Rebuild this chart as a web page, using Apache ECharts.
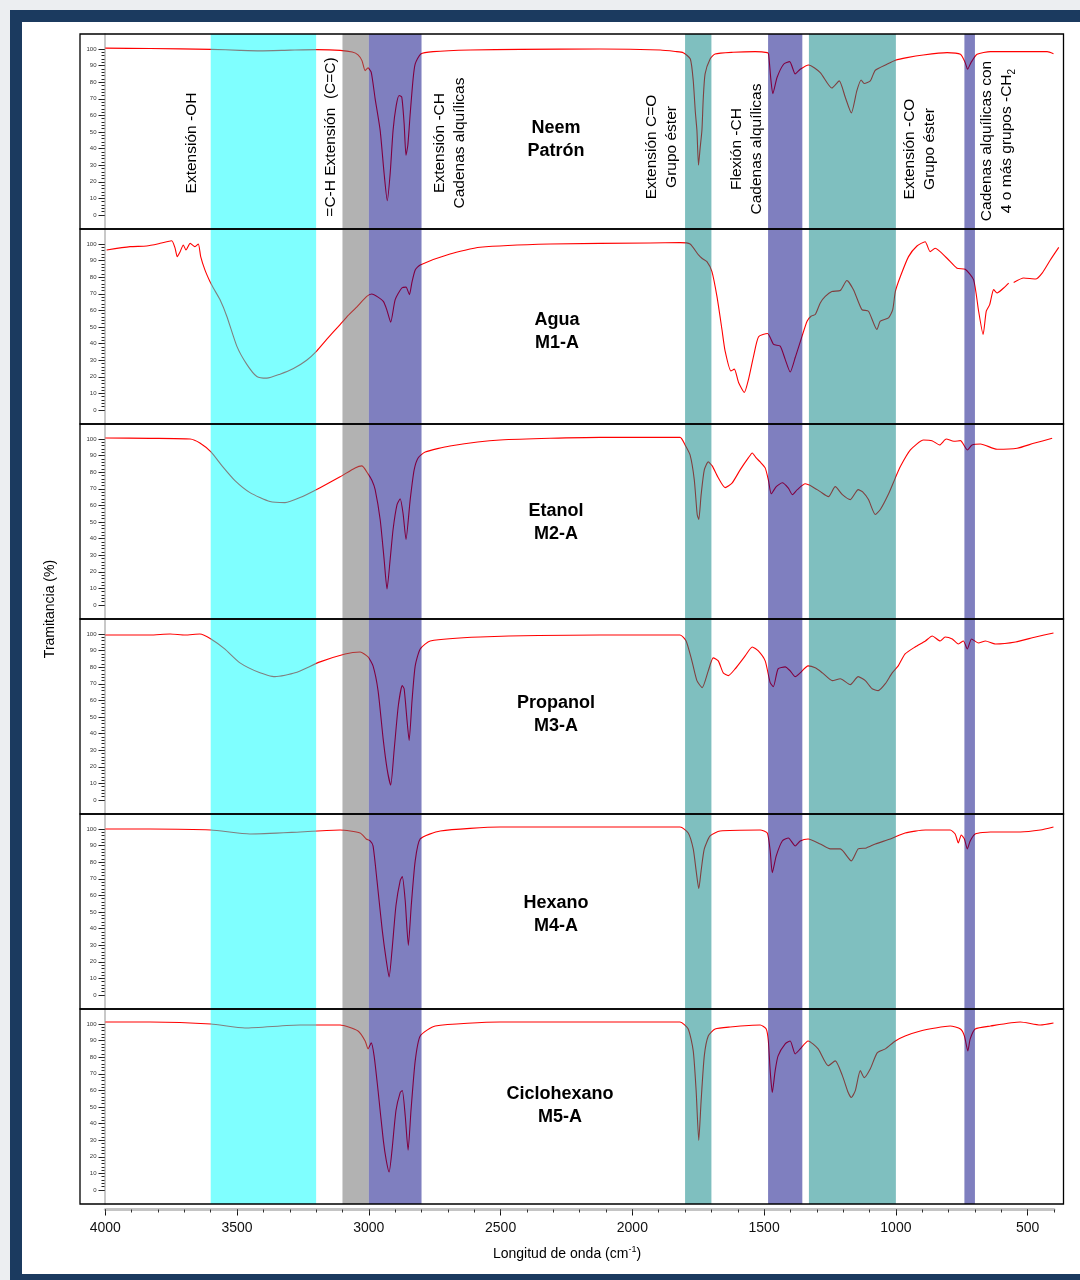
<!DOCTYPE html>
<html>
<head>
<meta charset="utf-8">
<title>Espectros FTIR</title>
<script src="https://cdn.jsdelivr.net/npm/echarts@6/dist/echarts.min.js"></script>
<style>
  html, body { margin: 0; padding: 0; width: 1080px; height: 1280px; overflow: hidden; background: #eceef1; }
  #frame { position: absolute; left: 10px; top: 10px; width: 1070px; height: 1270px; background: #1b3a5f; }
  #sheet { position: absolute; left: 22px; top: 22px; width: 1058px; height: 1252px; background: #ffffff; }
  #chart { position: absolute; left: 0; top: 0; width: 1080px; height: 1280px; }
</style>
</head>
<body>
<div id="frame"></div>
<div id="sheet"></div>
<div id="chart"></div>
<script>
// ---- Spectra: [wavenumber (cm-1), transmittance (%)] ----
const neem = [
  [4000,100.5],[3830,100.3],[3599,99.8],[3489,99.2],[3413,98.9],[3299,99.3],[3197,99.6],[3109,99.2],
  [3063,98.2],[3041,96.5],[3026,93],[3014,87],[3003,88.6],[2991,86],[2976,70],[2957,51],[2942,25],
  [2930,8.6],[2919,25],[2908,51],[2896,66],[2885,72],[2875,71],[2866,55],[2859,36],[2852,42],[2843,61],
  [2832,82],[2824,91],[2803,97],[2756,98.4],[2616,99.4],[2426,99.8],[2123,100],[1894,99.4],[1837,98.5],
  [1807,97.8],[1780,94],[1769,81],[1761,62],[1755,51],[1749,30],[1743,40],[1736,51],[1731,70],[1724,85],
  [1705,94],[1686,97],[1618,98],[1534,98.4],[1488,97.8],[1483,96.8],[1474,81],[1467,73],[1451,82.8],
  [1426,90.8],[1403,92.4],[1382,85],[1363,87.8],[1331,90.4],[1287,85.8],[1243,76.5],[1215,80.8],
  [1192,70.9],[1169,61.5],[1148,74.9],[1132,81.3],[1120,79.2],[1097,80.8],[1078,87.2],[1034,90.8],
  [1002,93.2],[958,94.8],[896,96.4],[806,97.8],[755,96.8],[737,91.8],[728,87.8],[715,91.8],[692,96.8],
  [641,98.4],[516,98.4],[426,98.4],[402,97.2]
];
const agua = [
  [3995,96.4],[3906,98.4],[3843,98.8],[3792,100.4],[3748,102],[3735,97.4],[3727,92.4],[3716,95.4],
  [3704,99.4],[3694,96.4],[3678,100.4],[3660,98.4],[3647,100],[3638,92.4],[3622,84.4],[3603,77.4],
  [3590,73.5],[3565,66.5],[3539,56.5],[3501,38.5],[3463,27.5],[3425,20.2],[3387,19.2],[3337,21.6],
  [3286,25],[3236,30],[3198,35.5],[3160,42.5],[3109,51.5],[3084,56],[3046,62],[3008,68.4],[2989,69.9],
  [2965,68],[2945,65.4],[2932,60.5],[2917,52.9],[2900,66.5],[2875,73.5],[2859,74],[2846,69.5],
  [2837,76.5],[2824,84.4],[2805,87.4],[2692,94],[2578,98],[2312,100],[1933,100.6],[1819,100.8],
  [1781,100],[1749,93.4],[1736,91.4],[1717,89.4],[1698,83.4],[1679,68.4],[1660,48.5],[1648,35.5],
  [1626,23.5],[1613,24.6],[1597,16.6],[1575,10.6],[1559,18.6],[1540,32.5],[1521,44.1],[1487,46.1],
  [1464,39.5],[1439,38.5],[1420,30.5],[1401,22.9],[1382,31.6],[1356,44.5],[1337,53.5],[1322,56.5],
  [1306,57.5],[1287,64.5],[1268,68.4],[1243,71.4],[1211,72],[1186,78],[1161,72.5],[1129,60.5],
  [1104,59.5],[1072,48.5],[1059,53.5],[1028,55.5],[1012,60.5],[1002,71.4],[983,80.4],[952,92.4],
  [920,98.8],[889,101.4],[870,95.4],[851,97.4],[806,91.4],[768,85.4],[737,84.8],[705,78.4],[686,59.5],
  [669,45.5],[657,59.5],[644,63.5],[629,72.5],[616,70.5],[591,73.5],[572,76.5],[562,null],
  [553,76.8],[515,79.5],[470,78.9],[445,82.5],[414,90.4],[382,98]
];
const etanol = [
  [4000,100.6],[3830,100.4],[3678,100],[3641,97.6],[3599,92.2],[3557,83.8],[3508,74.9],[3451,67.7],
  [3375,62.3],[3318,61.7],[3261,64.7],[3185,70.7],[3109,77.2],[3052,82.6],[3026,83.8],[3003,79],
  [2988,75],[2976,69.5],[2957,51.5],[2942,27.5],[2931,9.6],[2919,27.5],[2908,45.5],[2893,60.5],
  [2881,64],[2870,55],[2859,39.5],[2843,63.5],[2828,81.4],[2813,88.6],[2786,92.2],[2692,95.8],
  [2502,99.4],[2123,101],[1819,101],[1800,96.4],[1781,90.4],[1765,75.4],[1754,54.5],[1748,51.5],
  [1739,66.5],[1727,81.4],[1712,86.2],[1697,83.8],[1674,76.6],[1648,70.7],[1621,73.6],[1591,81.4],
  [1560,88.6],[1545,91.6],[1530,88.6],[1515,86.2],[1496,82.6],[1484,75.4],[1473,67],[1454,71.3],
  [1431,73.6],[1408,70.4],[1393,66.5],[1374,69.5],[1344,73],[1317,71.3],[1287,68.3],[1256,65.3],
  [1230,71.3],[1203,66.5],[1173,63.5],[1143,69.5],[1127,68.3],[1104,63.5],[1078,54.5],[1059,57.5],
  [1029,66.5],[1002,76.6],[983,83.4],[945,93.4],[895,99.4],[863,99],[834,96.4],[809,100],[780,98.6],
  [755,99],[729,93.4],[711,96.4],[679,97],[616,93.8],[540,94.4],[477,97.4],[407,100.4]
];
const propanol = [
  [4000,99.4],[3830,99.4],[3754,100],[3697,99.4],[3641,100],[3599,97],[3547,91],[3489,82.6],
  [3413,76.6],[3356,74.3],[3280,76.6],[3185,83.2],[3090,88],[3033,89.2],[3003,86.2],[2984,80.8],
  [2965,65.9],[2945,35.9],[2930,18],[2917,9],[2904,30],[2888,56.9],[2873,68.9],[2866,67],[2855,47.9],
  [2847,35.9],[2836,59.9],[2824,80.8],[2805,91],[2767,95.8],[2578,98.2],[2123,99.4],[1819,99.4],
  [1796,95.8],[1774,83.8],[1755,71.9],[1735,67.7],[1712,77.8],[1693,85.6],[1674,83.8],[1655,76.6],
  [1636,74.9],[1610,79],[1572,86.8],[1545,92.2],[1522,89.8],[1496,83.8],[1477,70.7],[1465,68.3],
  [1447,79],[1420,80.2],[1401,77.8],[1382,74.3],[1363,76.6],[1333,80.8],[1306,79.6],[1279,76.6],
  [1241,71.9],[1211,73],[1173,69.5],[1143,74.3],[1116,71.9],[1090,67],[1067,65.9],[1040,70.1],
  [1014,76.6],[991,80.8],[965,88],[927,92.2],[888,95.8],[862,98.8],[832,95.8],[813,98.2],[786,97],
  [763,94],[744,95.8],[729,91],[713,97],[687,94.6],[660,95.8],[622,94],[546,95.2],[470,98.2],[402,100.6]
];
const hexano = [
  [4000,100],[3830,100],[3599,99.4],[3451,97],[3261,98.2],[3109,99.4],[3033,97.6],[3010,94],
  [2995,92.8],[2984,89.8],[2969,68.9],[2949,38.9],[2934,21],[2923,10.8],[2912,26.9],[2897,53.9],
  [2881,68.9],[2873,71.3],[2862,56.9],[2850,29.9],[2839,53.9],[2824,80.8],[2805,94],[2729,98.8],
  [2502,101.2],[1819,101.2],[1788,97.6],[1769,88],[1758,74.9],[1748,64.1],[1739,74.9],[1727,88],
  [1705,95.8],[1667,98.8],[1515,99.4],[1488,97.6],[1477,86.8],[1469,73.6],[1454,83.8],[1431,92.8],
  [1408,94.6],[1382,89.8],[1363,92.8],[1333,94],[1287,91],[1249,88],[1211,88],[1169,80.8],[1143,88],
  [1112,88.6],[1078,91],[1021,94],[965,97.6],[888,99.4],[794,99.4],[775,97],[763,91.6],[752,96.4],
  [740,94],[729,88],[718,92.8],[699,97],[641,98.2],[528,98.2],[452,99.4],[402,101.2]
];
const ciclohexano = [
  [4000,101.2],[3830,101.2],[3599,100],[3470,97.6],[3261,99.4],[3109,99.4],[3041,95.8],[3014,89.8],
  [3003,85],[2991,88.6],[2980,80.8],[2965,59.9],[2945,29.9],[2934,18],[2923,10.8],[2912,24],
  [2897,47.9],[2881,58.7],[2873,59.9],[2862,44.9],[2851,24],[2840,47.9],[2824,77.8],[2805,92.8],
  [2748,98.8],[2502,101.2],[1819,101.2],[1788,97],[1769,83.8],[1758,59.9],[1748,29.9],[1739,53.9],
  [1727,80.8],[1712,92.8],[1686,97],[1629,98.2],[1515,99.4],[1492,97],[1484,89.8],[1477,71.9],
  [1469,58.7],[1458,71.9],[1447,80.8],[1420,88],[1401,89.8],[1382,82],[1363,85],[1333,89.8],
  [1295,85],[1257,74.9],[1230,77.8],[1203,68.9],[1181,58.7],[1169,55.7],[1154,59.9],[1135,71.9],
  [1120,67.7],[1097,73],[1071,82.6],[1040,85],[1002,89.8],[965,92.8],[907,95.8],[850,97.6],
  [794,98.8],[755,97],[740,92.8],[727,83.8],[718,91],[699,97],[641,98.8],[528,101.2],[452,99.4],[402,100.6]
];

const spectra = [neem, agua, etanol, propanol, hexano, ciclohexano];
const sampleNames = ['Neem\nPatrón', 'Agua\nM1-A', 'Etanol\nM2-A', 'Propanol\nM3-A', 'Hexano\nM4-A', 'Ciclohexano\nM5-A'];

// Tick labels
const xTickLabels = [4000, 3500, 3000, 2500, 2000, 1500, 1000, 500];
const yTickLabels = [0, 10, 20, 30, 40, 50, 60, 70, 80, 90, 100];
const yMinorTicks = Array.from({ length: 51 }, (_, k) => k * 2);

// Assignment bands (cm-1)
const bandRanges = [[3600, 3200], [3100, 3000], [3000, 2800], [1800, 1700], [1485, 1355], [1330, 1000], [740, 700]];
const bandKinds = ['oh', 'ch_sp2', 'ch', 'ester', 'ch', 'ester', 'ch'];

// ---- Styling & layout ----
const FONT = '"Liberation Sans", Arial, Helvetica, sans-serif';
const bandColor = {
  oh: 'rgba(0,255,255,0.5)',
  ch_sp2: 'rgba(102,102,102,0.5)',
  ch: 'rgba(0,0,128,0.5)',
  ester: 'rgba(0,128,128,0.5)'
};

const AX_L = 105.3, AX_R = 1054, WN_HI = 4000, WN_LO = 400;
const pxPerWn = (AX_R - AX_L) / (WN_HI - WN_LO);
const BOX_L = 80, BOX_R = 1063.5;
const xMaxPanel = WN_HI + (AX_L - BOX_L) / pxPerWn;
const xMinPanel = WN_LO - (BOX_R - AX_R) / pxPerWn;
const PANEL_TOP = 34, PANEL_H = 195;
const Y100 = 15, Y0 = 181;
const pxPerT = (Y0 - Y100) / 100;
const yMax = 100 + Y100 / pxPerT;
const yMin = -(PANEL_H - Y0) / pxPerT;
const Y_AXIS_X = 104.5;
const AXIS_Y = 1209.5;

const grids = [], xAxes = [], yAxes = [], series = [], graphics = [];

for (let i = 0; i < 6; i++) {
  const top = PANEL_TOP + i * PANEL_H;
  grids.push({ left: BOX_L, top: top, width: BOX_R - BOX_L, height: PANEL_H, show: false });
  xAxes.push({ gridIndex: i, type: 'value', inverse: true, min: xMinPanel, max: xMaxPanel, show: false });
  // labelled axis with long ticks
  yAxes.push({
    gridIndex: i, type: 'value', min: yMin, max: yMax, position: 'left', offset: -(Y_AXIS_X - BOX_L),
    axisLine: { show: false },
    axisTick: { show: true, customValues: yTickLabels, length: 6, lineStyle: { color: '#222', width: 1 } },
    axisLabel: { show: true, customValues: yTickLabels, fontSize: 6, color: '#333', margin: 8, fontFamily: FONT },
    splitLine: { show: false }
  });
  // fine tick column
  yAxes.push({
    gridIndex: i, type: 'value', min: yMin, max: yMax, position: 'left', offset: -(Y_AXIS_X - BOX_L),
    axisLine: { show: true, onZero: false, lineStyle: { color: '#c8c8c8', width: 2 } },
    axisTick: { show: true, customValues: yMinorTicks, length: 3, lineStyle: { color: '#222', width: 1 } },
    axisLabel: { show: false },
    splitLine: { show: false }
  });

  series.push({
    type: 'line', name: sampleNames[i].replace('\n', ' '), xAxisIndex: i, yAxisIndex: 2 * i,
    data: spectra[i], symbol: 'none', showSymbol: false, smooth: 0.2, connectNulls: false,
    lineStyle: { color: '#ff0000', width: 1.1 }, z: 2, silent: true
  });
  // translucent assignment bands laid over the trace
  series.push({
    type: 'line', xAxisIndex: i, yAxisIndex: 2 * i, data: [], z: 5, silent: true,
    markArea: {
      silent: true,
      z: 10,
      label: { show: false },
      data: bandRanges.map((r, k) => [
        { xAxis: r[0], itemStyle: { color: bandColor[bandKinds[k]], opacity: 1, borderWidth: 0 } },
        { xAxis: r[1] }
      ])
    }
  });

  graphics.push({
    type: 'rect', z: 100, silent: true,
    shape: { x: BOX_L, y: top, width: BOX_R - BOX_L, height: PANEL_H },
    style: { fill: null, stroke: '#000', lineWidth: 1.3 }
  });
}

// sample titles
const titleCenters = [[556, 140], [557, 331.5], [556, 522.5], [556, 714.5], [556, 914.5], [560, 1105.5]];
sampleNames.forEach((name, i) => {
  graphics.push({
    type: 'text', z: 100, silent: true, x: titleCenters[i][0], y: titleCenters[i][1],
    style: { text: name, fontSize: 18, fontWeight: 'bold', fontFamily: FONT, fill: '#000',
             align: 'center', verticalAlign: 'middle', lineHeight: 23 }
  });
});

// band assignment captions (vertical)
const captions = [
  { x: 192, y: 143, text: '{m|Extensión -OH}' },
  { x: 331, y: 137, text: '{m|=C-H Extensión  (C=C)}' },
  { x: 450, y: 143, text: '{m|Extensión -CH}\n{m|Cadenas alquílicas}' },
  { x: 662, y: 147, text: '{m|Extensión C=O}\n{m|Grupo éster}' },
  { x: 747, y: 149, text: '{m|Flexión -CH}\n{m|Cadenas alquílicas}' },
  { x: 920, y: 149, text: '{m|Extensión -CO}\n{m|Grupo éster}' },
  { x: 997, y: 141, text: '{m|Cadenas alquílicas con}\n{m|4 o más grupos -CH}{s|2}' }
];
captions.forEach(c => {
  graphics.push({
    type: 'text', z: 100, silent: true, x: c.x, y: c.y, rotation: Math.PI / 2,
    style: {
      text: c.text, fill: '#000', align: 'center', verticalAlign: 'middle',
      rich: {
        m: { fontSize: 15.5, fontFamily: FONT, lineHeight: 20, verticalAlign: 'middle', fill: '#000' },
        s: { fontSize: 10, fontFamily: FONT, lineHeight: 12, verticalAlign: 'bottom', fill: '#000' }
      }
    }
  });
});

// axis titles
graphics.push({
  type: 'text', z: 100, silent: true, x: 50, y: 609, rotation: Math.PI / 2,
  style: { text: 'Tramitancia (%)', fontSize: 14, fontFamily: FONT, fill: '#000', align: 'center', verticalAlign: 'middle' }
});
graphics.push({
  type: 'text', z: 100, silent: true, x: 567, y: 1254,
  style: {
    text: '{t|Longitud de onda (cm}{p|-1}{t|)}', align: 'center', verticalAlign: 'middle',
    rich: {
      t: { fontSize: 14, fontFamily: FONT, lineHeight: 18, verticalAlign: 'middle', fill: '#000' },
      p: { fontSize: 9, fontFamily: FONT, lineHeight: 11, verticalAlign: 'top', fill: '#000' }
    }
  }
});

// shared wavenumber axis under the stack
grids.push({ left: AX_L, width: AX_R - AX_L, top: 1100, height: AXIS_Y - 1100, show: false });
xAxes.push({
  gridIndex: 6, type: 'value', inverse: true, min: WN_LO, max: WN_HI, position: 'bottom',
  axisLine: { show: true, onZero: false, lineStyle: { color: '#c4c4c4', width: 3 } },
  axisTick: { show: true, customValues: xTickLabels, length: 6, lineStyle: { color: '#111', width: 1 } },
  axisLabel: { show: true, customValues: xTickLabels, fontSize: 14, color: '#111', margin: 12,
               fontFamily: FONT, formatter: v => String(v) },
  splitLine: { show: false }
});
xAxes.push({
  gridIndex: 6, type: 'value', inverse: true, min: WN_LO, max: WN_HI, interval: 100, position: 'bottom',
  axisLine: { show: false },
  axisTick: { show: true, length: 3, lineStyle: { color: '#333', width: 1 } },
  axisLabel: { show: false },
  splitLine: { show: false }
});
yAxes.push({ gridIndex: 6, type: 'value', show: false, min: 0, max: 1 });

const chart = echarts.init(document.getElementById('chart'), null, { renderer: 'canvas' });
chart.setOption({
  animation: false,
  backgroundColor: 'transparent',
  grid: grids,
  xAxis: xAxes,
  yAxis: yAxes,
  series: series,
  graphic: { elements: graphics }
});
</script>
</body>
</html>
